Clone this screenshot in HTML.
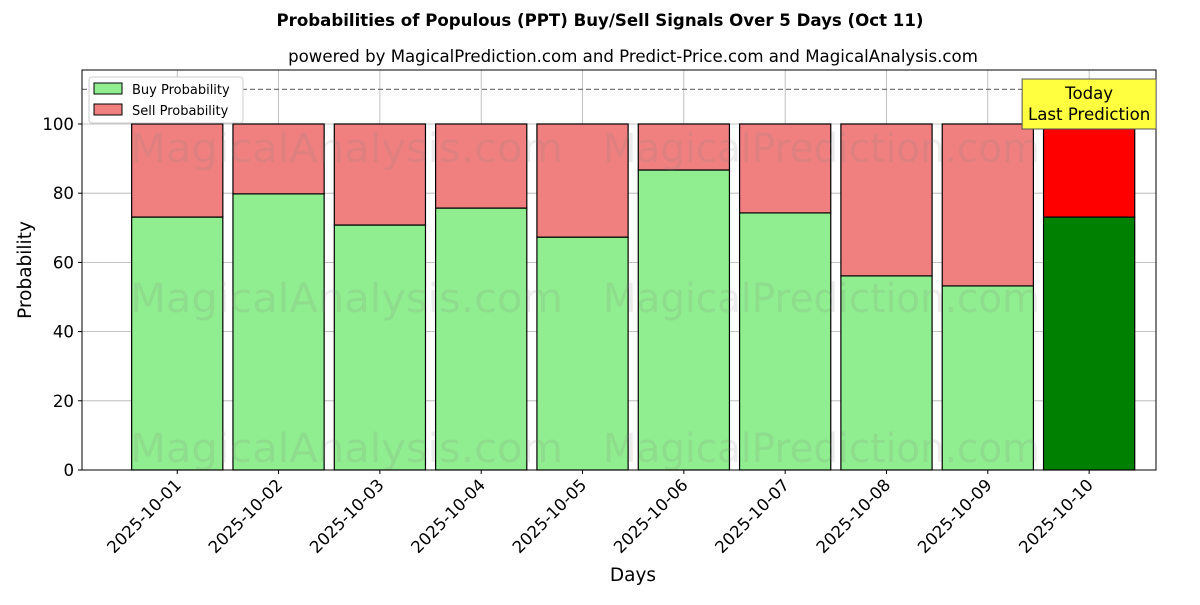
<!DOCTYPE html>
<html><head><meta charset="utf-8"><style>
body{margin:0;background:#fff;font-family:"Liberation Sans","DejaVu Sans",sans-serif;}
</style></head><body>
<svg id="chart" width="1200" height="600" xmlns="http://www.w3.org/2000/svg" font-family="DejaVu Sans, Liberation Sans, sans-serif">
<text x="600" y="26" text-anchor="middle" font-size="16.6" font-weight="bold">Probabilities of Populous (PPT) Buy/Sell Signals Over 5 Days (Oct 11)</text>
<text x="633" y="62" text-anchor="middle" font-size="16.6">powered by MagicalPrediction.com and Predict-Price.com and MagicalAnalysis.com</text>
<g id="grid"></g>
<g id="bars"></g>
<g id="watermarks" font-size="40" fill="#808080" fill-opacity="0.15">
<text x="130" y="162" textLength="433" lengthAdjust="spacingAndGlyphs">MagicalAnalysis.com</text>
<text x="603" y="162" textLength="437" lengthAdjust="spacingAndGlyphs">MagicalPrediction.com</text>
<text x="130" y="312" textLength="433" lengthAdjust="spacingAndGlyphs">MagicalAnalysis.com</text>
<text x="603" y="312" textLength="437" lengthAdjust="spacingAndGlyphs">MagicalPrediction.com</text>
<text x="130" y="462" textLength="433" lengthAdjust="spacingAndGlyphs">MagicalAnalysis.com</text>
<text x="603" y="462" textLength="437" lengthAdjust="spacingAndGlyphs">MagicalPrediction.com</text>
</g>
<g id="axes"></g>
</svg>
<script>
const categories=["2025-10-01","2025-10-02","2025-10-03","2025-10-04","2025-10-05","2025-10-06","2025-10-07","2025-10-08","2025-10-09","2025-10-10"];
const buyValues=[73.1,79.8,70.8,75.7,67.3,86.7,74.3,56.1,53.2,73.1];
const yTicks=[0,20,40,60,80,100];
const thresholdValue=110;
const NS="http://www.w3.org/2000/svg";
const L=82,R=1156,T=70,B=470;
const yMax=115.6,xMin=-0.94,xMax=9.66;
const y=v=>B-(v/yMax)*(B-T);
const x=i=>L+(i-xMin)/(xMax-xMin)*(R-L);
const bw=0.9*(R-L)/(xMax-xMin);
function mk(tag,attrs,parent){const e=document.createElementNS(NS,tag);for(const k in attrs)e.setAttribute(k,attrs[k]);parent.appendChild(e);return e;}
const grid=document.getElementById('grid'),bars=document.getElementById('bars'),axes=document.getElementById('axes');
yTicks.forEach(t=>{const l=mk('line',{x1:L,x2:R,y1:y(t),y2:y(t),stroke:'#b0b0b0','stroke-width':0.8},grid);

});
categories.forEach((c,i)=>{const l=mk('line',{x1:x(i),x2:x(i),y1:T,y2:B,stroke:'#b0b0b0','stroke-width':0.8},grid);

});
categories.forEach((c,i)=>{
const last=i===categories.length-1;
const b=buyValues[i];
const r1=mk('rect',{x:x(i)-bw/2,y:y(b),width:bw,height:y(0)-y(b),fill:last?'#008000':'#90ee90',stroke:'#000','stroke-width':1.2},bars);


const r2=mk('rect',{x:x(i)-bw/2,y:y(100),width:bw,height:y(b)-y(100),fill:last?'#ff0000':'#f08080',stroke:'#000','stroke-width':1.2},bars);


});
const th=mk('line',{x1:L,x2:R,y1:y(thresholdValue),y2:y(thresholdValue),stroke:'#777','stroke-width':1.2,'stroke-dasharray':'5,3'},axes);


const fr=mk('rect',{x:L,y:T,width:R-L,height:B-T,fill:'none',stroke:'#000','stroke-width':1},axes);


yTicks.forEach(t=>{mk('line',{x1:L-4,x2:L,y1:y(t),y2:y(t),stroke:'#000'},axes);
const tx=mk('text',{x:L-8,y:y(t)+6,'text-anchor':'end','font-size':16.6},axes);tx.textContent=t;

});
categories.forEach((c,i)=>{mk('line',{x1:x(i),x2:x(i),y1:B,y2:B+4,stroke:'#000'},axes);
const px=x(i)+5,py=B+16;
const tx=mk('text',{x:px,y:py,'text-anchor':'end','font-size':16.6,transform:`rotate(-45 ${px} ${py})`},axes);tx.textContent=c;

});
const xt=mk('text',{x:(L+R)/2+14,y:581,'text-anchor':'middle','font-size':18.5},axes);xt.textContent='Days';


const yt=mk('text',{x:31,y:(T+B)/2,'text-anchor':'middle','font-size':18.5,transform:`rotate(-90 31 ${(T+B)/2})`},axes);yt.textContent='Probability';


const lg=mk('g',{},axes);


mk('rect',{x:89,y:77,width:154,height:46,fill:'#fff',stroke:'#ccc',rx:3},lg);
mk('rect',{x:94,y:83,width:28,height:11,fill:'#90ee90',stroke:'#000'},lg);
mk('rect',{x:94,y:104,width:28,height:11,fill:'#f08080',stroke:'#000'},lg);
const l1=mk('text',{x:132,y:94,'font-size':13},lg);l1.textContent='Buy Probability';


const l2=mk('text',{x:132,y:115,'font-size':13},lg);l2.textContent='Sell Probability';


const an=mk('g',{},axes);


const ax=x(categories.length-1);
mk('rect',{x:ax-67,y:79,width:134,height:50,fill:'#ffff40',stroke:'#555'},an);
const a1=mk('text',{x:ax,y:99,'text-anchor':'middle','font-size':16.6},an);a1.textContent='Today';
const a2=mk('text',{x:ax,y:120,'text-anchor':'middle','font-size':16.6},an);a2.textContent='Last Prediction';
</script>
</body></html>
